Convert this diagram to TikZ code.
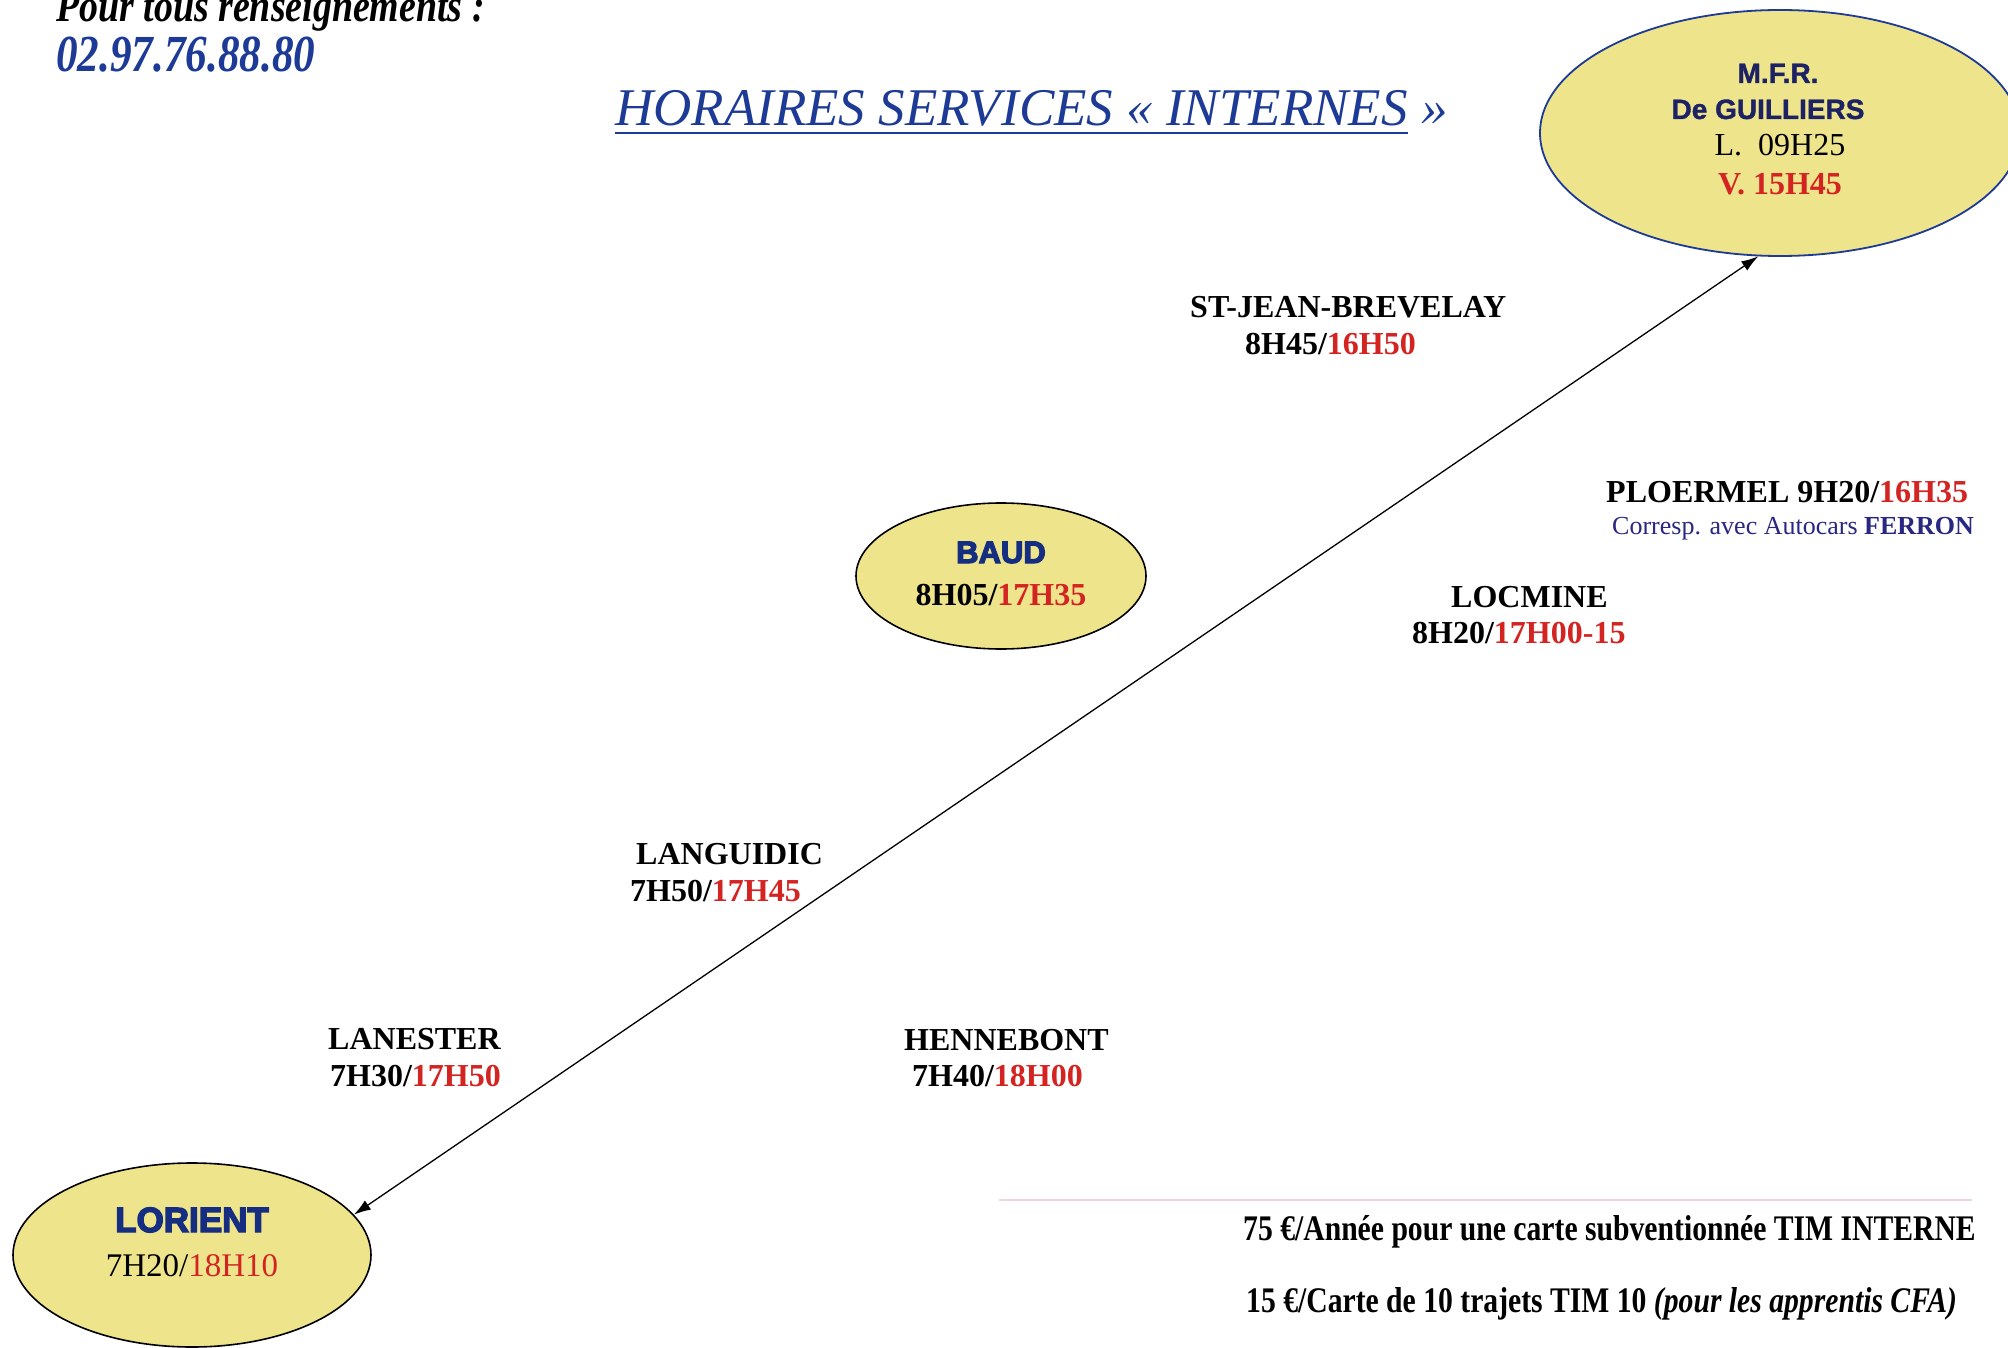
\documentclass[tikz,border=0pt]{standalone}
\usepackage{fontspec}
\setmainfont{Liberation Serif}
\newfontface\sansbf{Liberation Sans Bold}[FakeBold=1.2]
\newfontface\heavyf{Liberation Sans Bold}[FakeBold=4]
\newfontfamily\condf{Liberation Serif}[FakeStretch=0.824]
\newfontfamily\condph{Liberation Serif}[FakeStretch=0.83]
\usetikzlibrary{shapes.geometric,arrows.meta}
\definecolor{ered}{RGB}{212,36,34}
\definecolor{tblue}{RGB}{28,58,150}
\definecolor{navy}{RGB}{28,34,100}
\definecolor{lnavy}{RGB}{22,46,130}
\definecolor{cnavy}{RGB}{40,40,130}
\definecolor{efill}{RGB}{238,228,140}
\definecolor{pinkl}{RGB}{240,210,228}
\tikzset{
  stop/.style={ellipse, draw=black, line width=1.6pt, fill=efill, inner sep=0pt},
  lbl/.style={anchor=base west, inner sep=0pt, font=\fontsize{32}{36}\selectfont\bfseries},
  ctr/.style={anchor=base, inner sep=0pt},
}
\begin{document}
\begin{tikzpicture}[x=1pt,y=-1pt]
\useasboundingbox (0,0) rectangle (2008,1348);
\begin{scope}
\clip (0,0) rectangle (2008,1348);
\fill[white] (0,0) rectangle (2008,1348);
% ellipses
\node[stop, minimum width=358pt, minimum height=184pt] (lorient) at (192,1255) {};
\node[stop, minimum width=290pt, minimum height=146pt] (baud) at (1001,576) {};
\node[stop, draw=tblue, line width=1.8pt, minimum width=480pt, minimum height=246pt] (mfr) at (1780,133) {};
% arrow
\draw[{Latex[length=17pt,width=11pt]}-{Latex[length=17pt,width=11pt]}, line width=1.3pt] (lorient.14) -- (mfr.260);
% faint line
\draw[pinkl, line width=1.5pt] (999,1200) -- (1972,1200);
\end{scope}
% header
\node[anchor=base west, inner sep=0pt, font=\condf\bfseries\itshape\fontsize{46}{50}\selectfont] (info) at (56,22) {Pour tous renseignements :};
\node[anchor=base west, inner sep=0pt, font=\condph\bfseries\itshape\fontsize{52}{56}\selectfont, text=tblue] (phone) at (56,72) {02.97.76.88.80};
\node[anchor=base west, inner sep=0pt, font=\itshape\fontsize{53}{60}\selectfont, text=tblue] (title) at (615,126) {HORAIRES SERVICES « INTERNES};
\node[anchor=base west, inner sep=0pt, font=\itshape\fontsize{53}{60}\selectfont, text=tblue] (titleend) at ([xshift=13pt]title.base east) {»};
\draw[tblue, line width=2.5pt] ([yshift=-7pt]title.base west) -- ([yshift=-7pt]title.base east);
% MFR text
\node[ctr, font=\sansbf\fontsize{28}{32}\selectfont, text=navy] (mfrname) at (1778,83) {M.F.R.};
\node[ctr, font=\sansbf\fontsize{28}{32}\selectfont, text=navy] (mfrname2) at (1768,119) {De GUILLIERS};
\node[ctr, font=\fontsize{32}{36}\selectfont] (mfrl) at (1780,156) {L.\ \ 09H25};
\node[ctr, font=\bfseries\fontsize{32}{36}\selectfont, text=ered] (mfrv) at (1780,195) {V. 15H45};
% BAUD text
\node[ctr, font=\heavyf\fontsize{31}{36}\selectfont, text=lnavy] (baudname) at (1001,563) {BAUD};
\node[ctr, font=\bfseries\fontsize{32}{36}\selectfont] (baudtime) at (1001,605) {8H05/\textcolor{ered}{17H35}};
% LORIENT text
\node[ctr, font=\heavyf\fontsize{35}{40}\selectfont, text=lnavy] (lorientname) at (192,1232) {LORIENT};
\node[ctr, font=\fontsize{33}{40}\selectfont] (lorienttime) at (192,1276) {7H20/\textcolor{ered}{18H10}};
% stop labels
\node[lbl] (stjean) at (1190,317) {ST-JEAN-BREVELAY};
\node[lbl] (stjeant) at (1245,354) {8H45/\textcolor{ered}{16H50}};
\node[lbl] (ploermel) at (1606,502) {PLOERMEL 9H20/\textcolor{ered}{16H35}};
\node[anchor=base west, inner sep=0pt, font=\fontsize{26}{30}\selectfont, text=cnavy] (corresp) at (1612,534) {Corresp. avec Autocars \textbf{FERRON}};
\node[lbl] (locmine) at (1451,607) {LOCMINE};
\node[lbl] (locminet) at (1412,643) {8H20/\textcolor{ered}{17H00-15}};
\node[lbl] (languidic) at (636,864) {LANGUIDIC};
\node[lbl] (languidict) at (630,901) {7H50/\textcolor{ered}{17H45}};
\node[lbl] (lanester) at (328,1049) {LANESTER};
\node[lbl] (lanestert) at (330,1086) {7H30/\textcolor{ered}{17H50}};
\node[lbl] (hennebont) at (904,1050) {HENNEBONT};
\node[lbl] (hennebontt) at (912,1086) {7H40/\textcolor{ered}{18H00}};
% tariffs
\node[anchor=base west, inner sep=0pt, font=\condf\bfseries\fontsize{36}{40}\selectfont] (tarif1) at (1243,1240) {75 €/Année pour une carte subventionnée TIM INTERNE};
\node[anchor=base west, inner sep=0pt, font=\condf\bfseries\fontsize{36}{40}\selectfont] (tarif2) at (1246,1312) {15 €/Carte de 10 trajets TIM 10 \textit{(pour les apprentis CFA)}};
\end{tikzpicture}
\end{document}
